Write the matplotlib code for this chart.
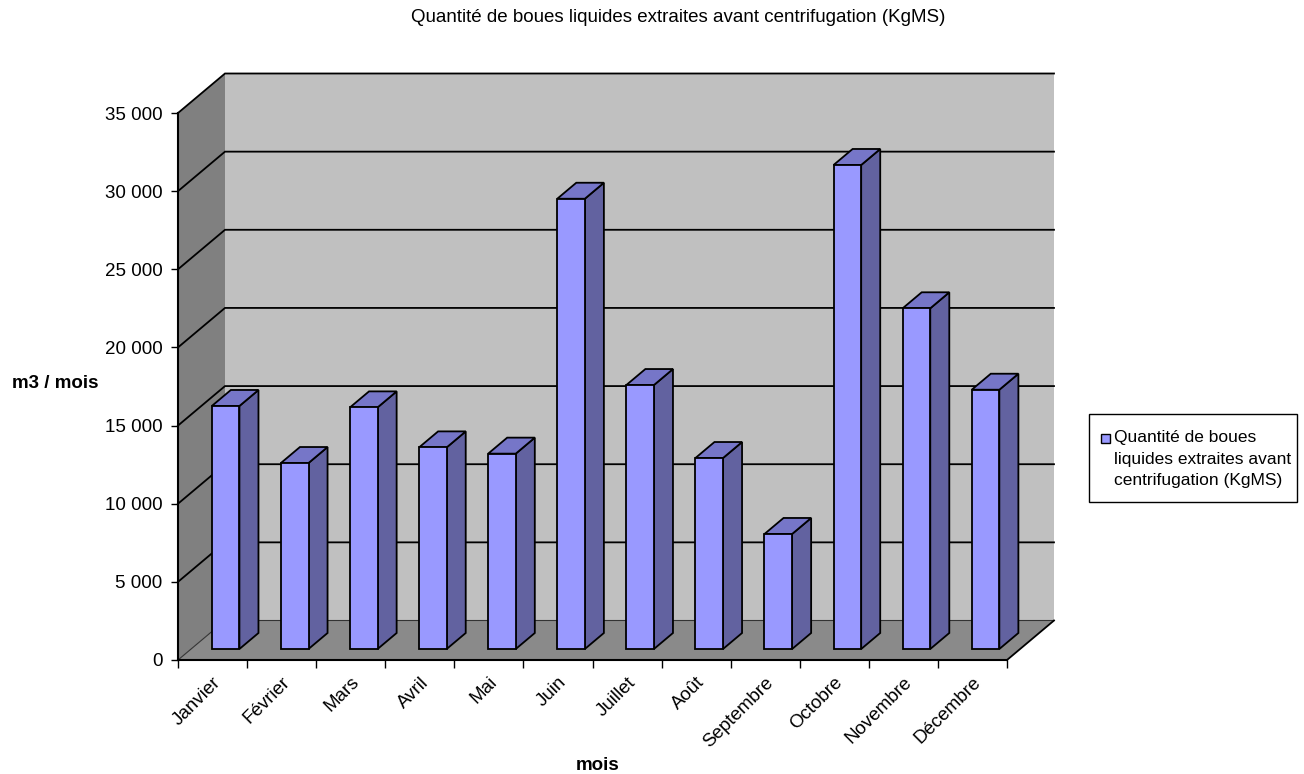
import matplotlib
matplotlib.use("Agg")
import matplotlib.pyplot as plt
from matplotlib.patches import Polygon, Rectangle

plt.rcParams['font.family'] = ['Liberation Sans', 'DejaVu Sans']

title = "Quantité de boues liquides extraites avant centrifugation (KgMS)"
months = ['Janvier', 'Février', 'Mars', 'Avril', 'Mai', 'Juin', 'Juillet',
          'Août', 'Septembre', 'Octobre', 'Novembre', 'Décembre']
values = [15550, 11900, 15460, 12900, 12500, 28810, 16890, 12220, 7360,
          30970, 21800, 16590]
yticks = [0, 5000, 10000, 15000, 20000, 25000, 30000, 35000]
series_label = "Quantité de boues\nliquides extraites avant\ncentrifugation (KgMS)"
ylabel = "m3 / mois"
xlabel = "mois"

W, H = 1304, 774
fig = plt.figure(figsize=(W / 100, H / 100), dpi=100)
# front plane of the 3D box
x0, x1, yb, yt = 178, 1007, 660, 113
ax = fig.add_axes([x0 / W, (H - yb) / H, (x1 - x0) / W, (yb - yt) / H])
n = len(months)
ymax = yticks[-1]
ax.set_xlim(0, n)
ax.set_ylim(0, ymax)
ax.patch.set_visible(False)

# depth offsets in data units
px_per_cat = (x1 - x0) / n
px_per_val = (yb - yt) / ymax
DX = 47 / px_per_cat
DY = 39.5 / px_per_val

wall = '#C0C0C0'
side_wall = '#808080'
floor_c = '#8A8A8A'

def poly(pts, fc, ec='none', lw=0, z=1):
    p = Polygon(pts, closed=True, facecolor=fc, edgecolor=ec, linewidth=lw,
                clip_on=False, zorder=z, joinstyle='miter')
    ax.add_patch(p)

# back wall
poly([(DX, DY), (n + DX, DY), (n + DX, ymax + DY), (DX, ymax + DY)], wall, z=1)
# left wall
poly([(0, 0), (DX, DY), (DX, ymax + DY), (0, ymax)], side_wall, z=1)
# floor
poly([(0, 0), (n, 0), (n + DX, DY), (DX, DY)], floor_c, z=1)

# gridlines (left wall diagonal + back wall horizontal)
for v in yticks:
    ax.plot([0, DX, n + DX], [v, v + DY, v + DY],
            color='black' if v > 0 else '#333333',
            lw=1.3 if v > 0 else 0.8, clip_on=False, zorder=2,
            solid_joinstyle='miter')
# floor right edge
ax.plot([n, n + DX], [0, DY], color='black', lw=1.3, clip_on=False, zorder=2)

# bars
f0 = 11 / 39.5      # front depth of bars
fd = 16 / 39.5      # bar depth
bw = 27.6 / px_per_cat
front_c = '#9999FF'
side_c = '#6262A0'
top_c = '#7676C8'
for i, v in enumerate(values):
    cx = i + 0.5 + f0 * DX
    by = f0 * DY
    xl, xr = cx - bw / 2, cx + bw / 2
    ddx, ddy = fd * DX, fd * DY
    poly([(xr, by), (xr + ddx, by + ddy), (xr + ddx, by + ddy + v), (xr, by + v)],
         side_c, 'black', 1.3, z=3)
    poly([(xl, by + v), (xr, by + v), (xr + ddx, by + v + ddy), (xl + ddx, by + v + ddy)],
         top_c, 'black', 1.3, z=3)
    poly([(xl, by), (xr, by), (xr, by + v), (xl, by + v)],
         front_c, 'black', 1.3, z=4)

# axes
for s in ['top', 'right']:
    ax.spines[s].set_visible(False)
for s in ['left', 'bottom']:
    ax.spines[s].set_linewidth(1.5)
    ax.spines[s].set_zorder(5)
ax.set_yticks(yticks)
ax.set_yticklabels([f"{v:,}".replace(",", " ") for v in yticks], fontsize=13.5)
ax.tick_params(axis='y', direction='out', length=5, width=1, pad=6)
ax.set_xticks(range(n + 1))
ax.set_xticklabels([])
ax.tick_params(axis='x', which='major', direction='out', length=6, width=1)
ax.set_xticks([i + 0.5 for i in range(n)], minor=True)
ax.set_xticklabels(months, minor=True, rotation=45, ha='right',
                   rotation_mode='anchor', fontsize=13.5)
ax.tick_params(axis='x', which='minor', length=0, pad=10)

fig.text(678 / W, 1 - 18 / H, title, ha='center', va='center', fontsize=13.5)
fig.text(55 / W, 1 - 384 / H, ylabel, ha='center', va='center', fontsize=13.5,
         fontweight='bold')
fig.text(598 / W, 1 - 765 / H, xlabel, ha='center', va='center', fontsize=13.5,
         fontweight='bold')

# legend (drawn manually to match the single-entry box)
lx0, ly0, lx1, ly1 = 1089, 414, 1297, 502
fig.patches.append(Rectangle((lx0 / W, 1 - ly1 / H), (lx1 - lx0) / W, (ly1 - ly0) / H,
                             transform=fig.transFigure, facecolor='white',
                             edgecolor='black', linewidth=1))
fig.patches.append(Rectangle((1101 / W, 1 - 443 / H), 9 / W, 9 / H,
                             transform=fig.transFigure, facecolor=front_c,
                             edgecolor='black', linewidth=1))
fig.text(1114 / W, 1 - 430 / H, series_label, ha='left', va='top', fontsize=12.5,
         linespacing=1.55)

fig.savefig('out.png', dpi=100)
